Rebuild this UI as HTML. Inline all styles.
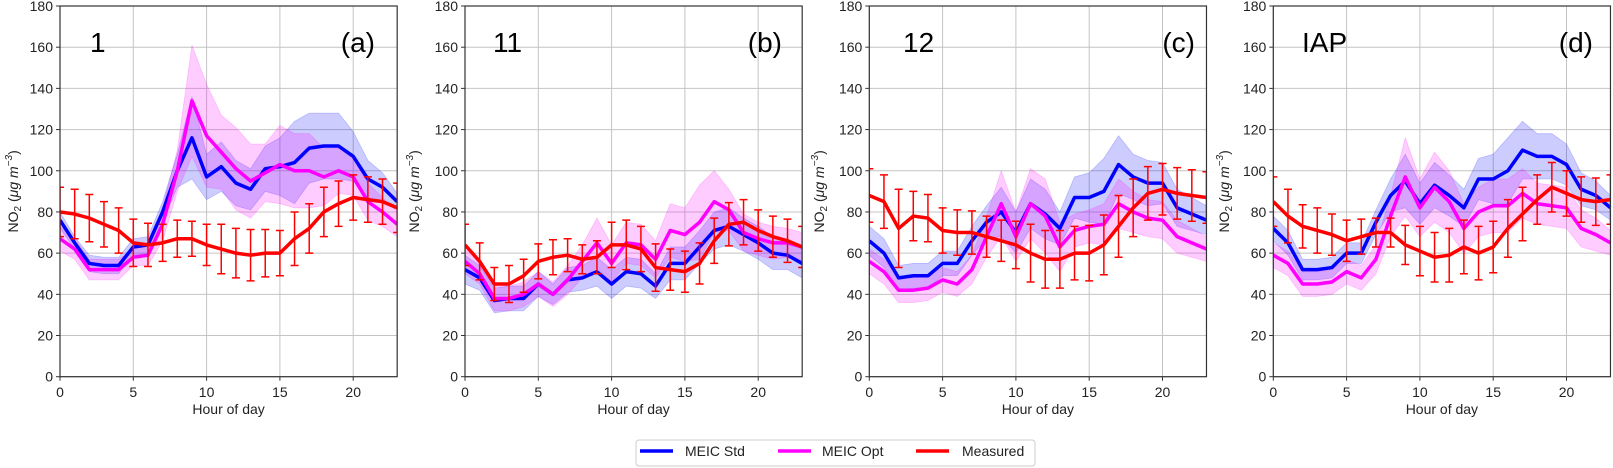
<!DOCTYPE html>
<html><head><meta charset="utf-8"><style>
html,body{margin:0;padding:0;background:#fff;}
svg{display:block;font-family:"Liberation Sans",sans-serif;}
</style></head><body>
<svg id="chart" width="1613" height="468" viewBox="0 0 1613 468" xmlns="http://www.w3.org/2000/svg"></svg>
<script>
const hours = [0,1,2,3,4,5,6,7,8,9,10,11,12,13,14,15,16,17,18,19,20,21,22,23];
const yTicks = [0,20,40,60,80,100,120,140,160,180];
const xTicks = [0,5,10,15,20];
const panelNames = ["1","11","12","IAP"];
const panelTags = ["(a)","(b)","(c)","(d)"];

const blueA = [76,65,55,54,54,63,64,80,100,116,97,102,94,91,101,102,104,111,112,112,107,96,92,85];
const magA  = [67,62,52,52,52,58,59,74,100,134,117,109,101,95,99,103,100,100,97,100,97,85,80,74];
const redA  = [80,79,77,74,71,65,64,65,67,67,64,62,60,59,60,60,67,72,80,84,87,86,85,82];
const redErrA = [12,12,11.5,11,11,11.5,10.5,9,9,8.5,10,12,12,12.5,11.5,11,13,12,12,11,11,11,11,12];
const blueSpA = [4,3,4,4,4,4,4,5,8,20,11,12,11,10,11,14,20,17,16,16,12,9,7,4];
const magSpA  = [6,5,5,5,5,4,5,8,10,27,25,18,20,18,14,19,18,18,14,11,9,9,7,6];

const blueB = [52,48,37,38,38,45,40,47,48,51,45,51,50,44,55,55,63,71,73,69,65,60,59,55];
const magB  = [56,50,38,38,40,45,40,47,56,65,55,65,64,57,71,69,75,85,81,70,67,65,65,63];
const redB  = [64,56,45,45,49,56,58,59,57,58,64,64,62,53,52,51,55,66,74,75,71,68,66,63];
const redErrB = [10,9,8,9,8,8.5,8.5,8,7,8,11,12,11,11.5,10,10,10,11,10.5,11,10,10,10.5,10];
const blueSpB = [7,6,6,6,6,6,5,6,6,7,7,7,7,6,8,8,8,9,9,8,8,8,7,7];
const magSpB  = [6,5,6,6,6,6,6,7,8,12,9,10,10,9,13,13,18,15,10,9,8,8,7,7];

const blueC = [66,60,48,49,49,55,55,66,75,80,70,84,79,72,87,87,90,103,97,94,94,82,79,76];
const magC  = [56,51,42,42,43,47,45,52,68,84,68,84,78,63,71,73,74,84,80,77,76,68,65,62];
const redC  = [88,85,72,78,77,71,70,70,68,66,64,60,57,57,60,60,64,73,82,89,91,89,88,87];
const redErrC = [13,13,19,12,11.5,11,11,10.5,10,10,11.5,14,14,14,13,13.5,14.5,15,14,13,12.5,12.5,12.5,12.5];
const blueSpC = [7,7,6,6,6,6,6,7,8,12,10,12,12,8,10,12,16,14,11,11,10,9,8,7];
const magSpC  = [6,6,6,6,6,6,6,7,10,16,12,17,18,12,8,8,10,12,10,9,9,8,7,6];

const blueD = [72,65,52,52,53,60,60,75,88,95,84,93,88,82,96,96,100,110,107,107,103,91,88,82];
const magD  = [59,55,45,45,46,51,48,57,78,97,82,92,85,72,80,83,83,89,84,83,82,72,69,65];
const redD  = [85,78,73,71,69,66,68,70,70,64,61,58,59,63,60,63,72,79,86,92,89,86,85,86];
const redErrD = [12,13,10.5,11,10,10,8.5,7,7,9.5,12,12,13,13,13,12.5,14,13,12,12,11,11,11.5,12];
const blueSpD = [6,6,5,5,5,5,5,6,8,13,10,11,10,9,10,12,16,14,11,11,10,8,7,6];
const magSpD  = [6,6,6,6,6,6,6,7,10,19,14,17,15,12,12,13,13,12,10,10,10,9,8,6];

const panels = [
 {x0:60, blue:blueA, mag:magA, red:redA, err:redErrA, bs:blueSpA, ms:magSpA, ylab:13, nameX:90, tagR:375},
 {x0:465, blue:blueB, mag:magB, red:redB, err:redErrB, bs:blueSpB, ms:magSpB, ylab:414, nameX:493, tagR:782},
 {x0:869.3, blue:blueC, mag:magC, red:redC, err:redErrC, bs:blueSpC, ms:magSpC, ylab:819, nameX:903, tagR:1195},
 {x0:1273.3, blue:blueD, mag:magD, red:redD, err:redErrD, bs:blueSpD, ms:magSpD, ylab:1224, nameX:1302, tagR:1593}
];
const NS="http://www.w3.org/2000/svg";
const svg=document.getElementById('chart');
function mk(tag,attrs,parent){const e=document.createElementNS(NS,tag);for(const k in attrs)e.setAttribute(k,attrs[k]);(parent||svg).appendChild(e);return e;}
const yTop=6, yBot=376.7, pxh=14.66;
const yS=v=>yBot-(v/180)*(yBot-yTop);

panels.forEach((p,pi)=>{
  const xS=h=>p.x0+h*pxh;
  const xR=xS(23);
  const g=mk('g',{});
  
  
  const cp=mk('clipPath',{id:'clip'+pi},g);
  mk('rect',{x:p.x0,y:yTop,width:xR-p.x0,height:yBot-yTop},cp);
  // grid
  yTicks.forEach(t=>{
    const l=mk('line',{x1:p.x0,x2:xR,y1:yS(t),y2:yS(t),stroke:'#c4c4c4','stroke-width':1},g);
    
    
    mk('line',{x1:p.x0-4,x2:p.x0,y1:yS(t),y2:yS(t),stroke:'#333','stroke-width':1},g);
    const tx=mk('text',{x:p.x0-7,y:yS(t)+5,'text-anchor':'end','font-size':14,fill:'#222'},g);
    tx.textContent=t;
    
    
  });
  xTicks.forEach(t=>{
    const l=mk('line',{x1:xS(t),x2:xS(t),y1:yTop,y2:yBot,stroke:'#c4c4c4','stroke-width':1},g);
    
    
    mk('line',{x1:xS(t),x2:xS(t),y1:yBot,y2:yBot+4,stroke:'#333','stroke-width':1},g);
    const tx=mk('text',{x:xS(t),y:397,'text-anchor':'middle','font-size':14,fill:'#222'},g);
    tx.textContent=t;
    
    
  });
  const dg=mk('g',{'clip-path':'url(#clip'+pi+')'},g);
  function band(vals,sp,color,name){
    let d='';
    hours.forEach((h,i)=>{d+=(i?'L':'M')+xS(h)+','+yS(vals[i]+sp[i]);});
    for(let i=hours.length-1;i>=0;i--)d+='L'+xS(hours[i])+','+yS(vals[i]-sp[i]);
    const e=mk('path',{d:d+'Z',fill:color,stroke:color,'stroke-width':0.8},dg);
    
    
  }
  function line(vals,color,name){
    const pts=hours.map((h,i)=>xS(h)+','+yS(vals[i])).join(' ');
    const e=mk('polyline',{points:pts,fill:'none',stroke:color,'stroke-width':3.5,'stroke-linejoin':'round'},dg);
    
    
  }
  band(p.blue,p.bs,'rgba(0,0,255,0.2)','meic-std-band');
  band(p.mag,p.ms,'rgba(255,0,255,0.2)','meic-opt-band');
  line(p.blue,'#0000ff','meic-std-line');
  line(p.mag,'#ff00ff','meic-opt-line');
  line(p.red,'#ff0000','measured-line');
  hours.forEach((h,i)=>{
    const x=xS(h),y1=yS(p.red[i]+p.err[i]),y2=yS(p.red[i]-p.err[i]);
    const eb=mk('path',{d:`M${x},${y1}L${x},${y2}M${x-4},${y1}L${x+4},${y1}M${x-4},${y2}L${x+4},${y2}`,stroke:'#ff0000','stroke-width':1.5,fill:'none'},dg);
    
    
  });
  const fr=mk('rect',{x:p.x0,y:yTop,width:xR-p.x0,height:yBot-yTop,fill:'none',stroke:'#333','stroke-width':1.2},g);
  
  
  const xl=mk('text',{x:xS(11.5),y:414,'text-anchor':'middle','font-size':14,fill:'#222'},g);
  xl.textContent='Hour of day';
  
  
  const yl=mk('text',{transform:`translate(${p.ylab+5},${yS(90)}) rotate(-90)`,'text-anchor':'middle','font-size':14,fill:'#222'},g);
  yl.innerHTML='NO<tspan font-size="10" dy="3">2</tspan><tspan dy="-3"> (</tspan><tspan font-style="italic">μg m</tspan><tspan font-size="10" dy="-6" font-style="italic">−3</tspan><tspan dy="6">)</tspan>';
  
  
  const nm=mk('text',{x:p.nameX,y:52,'font-size':28,fill:'#000'},g);
  nm.textContent=panelNames[pi];
  
  
  const tg=mk('text',{x:p.tagR,y:52,'text-anchor':'end','font-size':28,fill:'#000'},g);
  tg.textContent=panelTags[pi];
  
  
});
// legend
const lg=mk('g',{});


mk('rect',{x:636,y:440,width:399,height:26,rx:3,fill:'#fff',stroke:'#ccc','stroke-width':1},lg);
[['MEIC Std','#0000ff',640,685],['MEIC Opt','#ff00ff',778,822],['Measured','#ff0000',916,962]].forEach(e=>{
  const ge=mk('g',{},lg);
  
  
  mk('line',{x1:e[2],x2:e[2]+33,y1:451,y2:451,stroke:e[1],'stroke-width':3.5},ge);
  const t=mk('text',{x:e[3],y:456,'font-size':14,fill:'#222'},ge);
  t.textContent=e[0];
});
</script>
</body></html>
